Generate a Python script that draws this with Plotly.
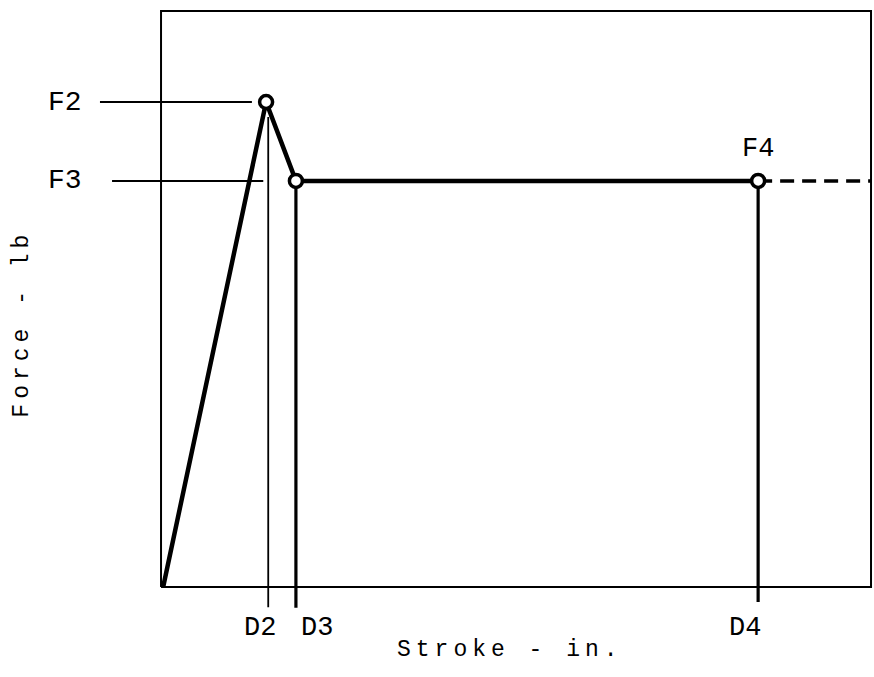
import plotly.graph_objects as go

# ---- data (diagram units) ----
stroke_pts = [0.03, 1.48, 1.90, 8.41]      # start, D2, D3, D4
force_pts = [0.0, 8.42, 7.05, 7.05]        # 0, F2, F3, F4
x_end = 10.0                               # right limit of the box
y_top = 10.0                               # top limit of the box
d_positions = [1.51, 1.90, 8.41]           # D2, D3, D4 drop lines
d_labels = ["D2", "D3", "D4"]
d_label_x = [1.39, 2.20, 8.23]
f_labels = ["F2", "F3"]
f_values = [8.42, 7.05]
f_guide_start = [-0.86, -0.69]
f_guide_end = [1.28, 1.44]

FONT = "Liberation Mono, Courier New, monospace"
BLACK = "#000000"

fig = go.Figure()

# plot box
fig.add_trace(go.Scatter(x=[0, x_end, x_end, 0, 0], y=[0, 0, y_top, y_top, 0],
                         mode="lines", line=dict(color=BLACK, width=2),
                         hoverinfo="skip", showlegend=False))

# force guide lines (F2, F3)
for f, xs, xe in zip(f_values, f_guide_start, f_guide_end):
    fig.add_trace(go.Scatter(x=[xs, xe], y=[f, f], mode="lines",
                             line=dict(color=BLACK, width=2),
                             hoverinfo="skip", showlegend=False))

# vertical drop lines at D2, D3, D4
drop_tops = [8.16, force_pts[2], force_pts[3]]
drop_bottoms = [-0.35, -0.36, -0.26]
drop_widths = [1.8, 3.2, 3.2]
for d, t, b, w in zip(d_positions, drop_tops, drop_bottoms, drop_widths):
    fig.add_trace(go.Scatter(x=[d, d], y=[b, t], mode="lines",
                             line=dict(color=BLACK, width=w),
                             hoverinfo="skip", showlegend=False))

# main force-stroke curve
fig.add_trace(go.Scatter(x=stroke_pts, y=force_pts, mode="lines",
                         line=dict(color=BLACK, width=4.5),
                         hoverinfo="skip", showlegend=False))
# dashed continuation
fig.add_trace(go.Scatter(x=[stroke_pts[-1], x_end], y=[force_pts[-1], force_pts[-1]],
                         mode="lines", line=dict(color=BLACK, width=3.5, dash="14px,8px"),
                         hoverinfo="skip", showlegend=False))
# open circle markers at F2, F3, F4
fig.add_trace(go.Scatter(x=stroke_pts[1:], y=force_pts[1:], mode="markers",
                         marker=dict(size=13, color="white",
                                     line=dict(color=BLACK, width=3.5)),
                         cliponaxis=False, hoverinfo="skip", showlegend=False))

ann = []
for lab, f in zip(f_labels, f_values):
    ann.append(dict(x=-1.35, y=f, text=lab, showarrow=False,
                    xanchor="center", yanchor="middle",
                    font=dict(family=FONT, size=28, color=BLACK)))
ann.append(dict(x=stroke_pts[3], y=7.6, text="F4", showarrow=False,
                xanchor="center", yanchor="middle",
                font=dict(family=FONT, size=27, color=BLACK)))
for lab, lx in zip(d_labels, d_label_x):
    ann.append(dict(x=lx, y=-0.71, text=lab, showarrow=False,
                    xanchor="center", yanchor="middle",
                    font=dict(family=FONT, size=27, color=BLACK)))
ann.append(dict(x=4.92, y=-1.09,
                text="<span style='letter-spacing:5px'>Stroke - in.</span>",
                showarrow=False, xanchor="center", yanchor="middle",
                font=dict(family=FONT, size=23, color=BLACK)))
ann.append(dict(x=-1.96, y=4.57,
                text="<span style='letter-spacing:5px'>Force - lb</span>",
                textangle=-90, showarrow=False, xanchor="center", yanchor="middle",
                font=dict(family=FONT, size=23, color=BLACK)))

fig.update_layout(
    width=874, height=677,
    margin=dict(l=0, r=0, t=0, b=0),
    paper_bgcolor="white", plot_bgcolor="white",
    xaxis=dict(range=[-2.268, 10.042], visible=False, fixedrange=True),
    yaxis=dict(range=[-1.5625, 10.191], visible=False, fixedrange=True),
    annotations=ann,
    showlegend=False,
)

# remove the default 8px page margin so the figure fills the window exactly
fig.write_html("out.html",
               config={"displayModeBar": False},
               post_script="document.body.style.margin='0';"
                           "document.body.style.overflow='hidden';")
